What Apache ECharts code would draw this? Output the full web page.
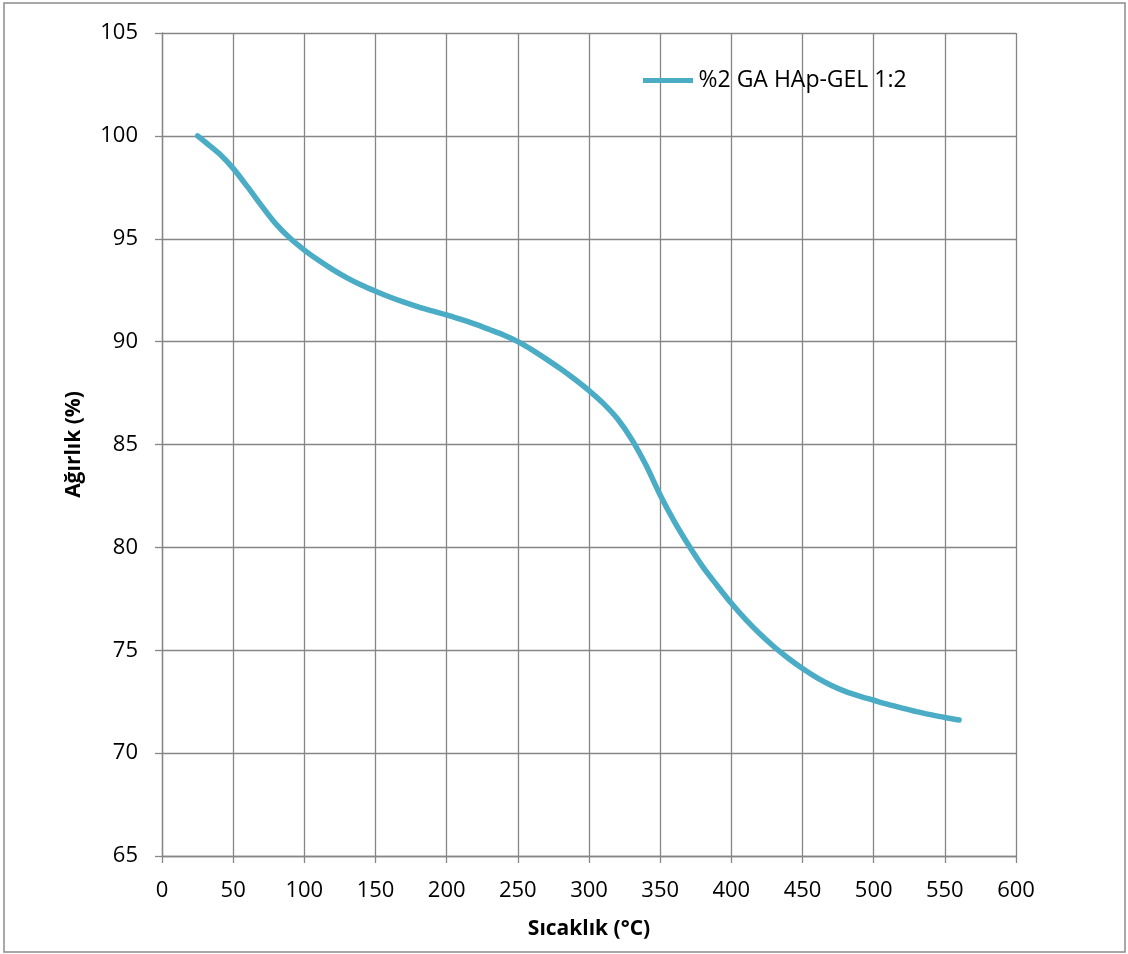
<!DOCTYPE html>
<html>
<head>
<meta charset="utf-8">
<title>%2 GA HAp-GEL 1:2</title>
<script src="https://cdn.jsdelivr.net/npm/echarts@6/dist/echarts.min.js"></script>
<style>
  html, body { margin: 0; padding: 0; background: #ffffff; }
  #chart { width: 1128px; height: 954px; }
</style>
</head>
<body>
<div id="chart"></div>
<script>
// Thermogravimetric curve: temperature (°C) vs. remaining weight (%)
const temperatures = [25, 30, 40, 50, 60, 70, 80, 90, 100, 110, 120, 130, 140, 150, 160, 170, 180, 190, 200,
  210, 220, 230, 240, 250, 260, 270, 280, 290, 300, 310, 320, 330, 340, 350, 360, 370, 380, 390, 400,
  410, 420, 430, 440, 450, 460, 470, 480, 490, 500, 510, 520, 530, 540, 550, 560];
const weights = [100.0, 99.72, 99.15, 98.42, 97.53, 96.6, 95.72, 95.02, 94.45, 93.95, 93.5, 93.1, 92.75, 92.45, 92.17, 91.92, 91.69, 91.49, 91.3,
  91.08, 90.85, 90.59, 90.32, 90.0, 89.6, 89.15, 88.68, 88.17, 87.62, 87.0, 86.25, 85.25, 84.0, 82.55, 81.25, 80.1, 79.05, 78.15, 77.28,
  76.5, 75.8, 75.17, 74.61, 74.11, 73.67, 73.3, 73.0, 72.77, 72.57, 72.37, 72.19, 72.02, 71.87, 71.73, 71.61];
const seriesName = '%2 GA HAp-GEL 1:2';
const xTitle = 'Sıcaklık (°C)';
const yTitle = 'Ağırlık (%)';

const gridColor = '#868686';
const fontFamily = '"Open Sans", "Noto Sans", sans-serif';

const chart = echarts.init(document.getElementById('chart'), null, { renderer: 'canvas' });

chart.setOption({
  backgroundColor: '#ffffff',
  animation: false,
  graphic: [{
    type: 'rect',
    shape: { x: 4, y: 3, width: 1121, height: 949 },
    style: { fill: 'none', stroke: '#8c8c8c', lineWidth: 1.5 },
    silent: true
  }],
  grid: { left: 162, right: 112, top: 33, bottom: 98, containLabel: false },
  legend: {
    data: [{ name: seriesName, icon: 'path://M0,0 L10,0 L10,1 L0,1 Z' }],
    left: 638,
    top: 64,
    itemWidth: 57,
    itemHeight: 5,
    itemGap: 2,
    textStyle: { fontFamily: fontFamily, fontSize: 23, color: '#000000', padding: [0, 0, 0, -3] }
  },
  xAxis: {
    type: 'value',
    min: 0,
    max: 600,
    interval: 50,
    name: xTitle,
    nameLocation: 'middle',
    nameGap: 63,
    nameTextStyle: { fontFamily: fontFamily, fontSize: 21, fontWeight: 'bold', color: '#000000' },
    axisLine: { show: true, lineStyle: { color: gridColor, width: 1.3 } },
    axisTick: { show: true, length: 7, lineStyle: { color: gridColor, width: 1.3 } },
    axisLabel: { fontFamily: fontFamily, fontSize: 22, color: '#000000', margin: 24 },
    splitLine: { show: true, lineStyle: { color: gridColor, width: 1.3 } }
  },
  yAxis: {
    type: 'value',
    min: 65,
    max: 105,
    interval: 5,
    name: yTitle,
    nameLocation: 'middle',
    nameGap: 77,
    nameRotate: 90,
    nameTextStyle: { fontFamily: fontFamily, fontSize: 21, fontWeight: 'bold', color: '#000000' },
    axisLine: { show: true, lineStyle: { color: gridColor, width: 1.3 } },
    axisTick: { show: true, length: 7, lineStyle: { color: gridColor, width: 1.3 } },
    axisLabel: { fontFamily: fontFamily, fontSize: 22, color: '#000000', margin: 24 },
    splitLine: { show: true, lineStyle: { color: gridColor, width: 1.3 } }
  },
  series: [{
    name: seriesName,
    type: 'line',
    data: temperatures.map((t, i) => [t, weights[i]]),
    smooth: 0.3,
    showSymbol: false,
    symbol: 'none',
    lineStyle: { color: '#4BACC6', width: 5.5, cap: 'round' },
    itemStyle: { color: '#4BACC6' }
  }]
});
</script>
</body>
</html>
